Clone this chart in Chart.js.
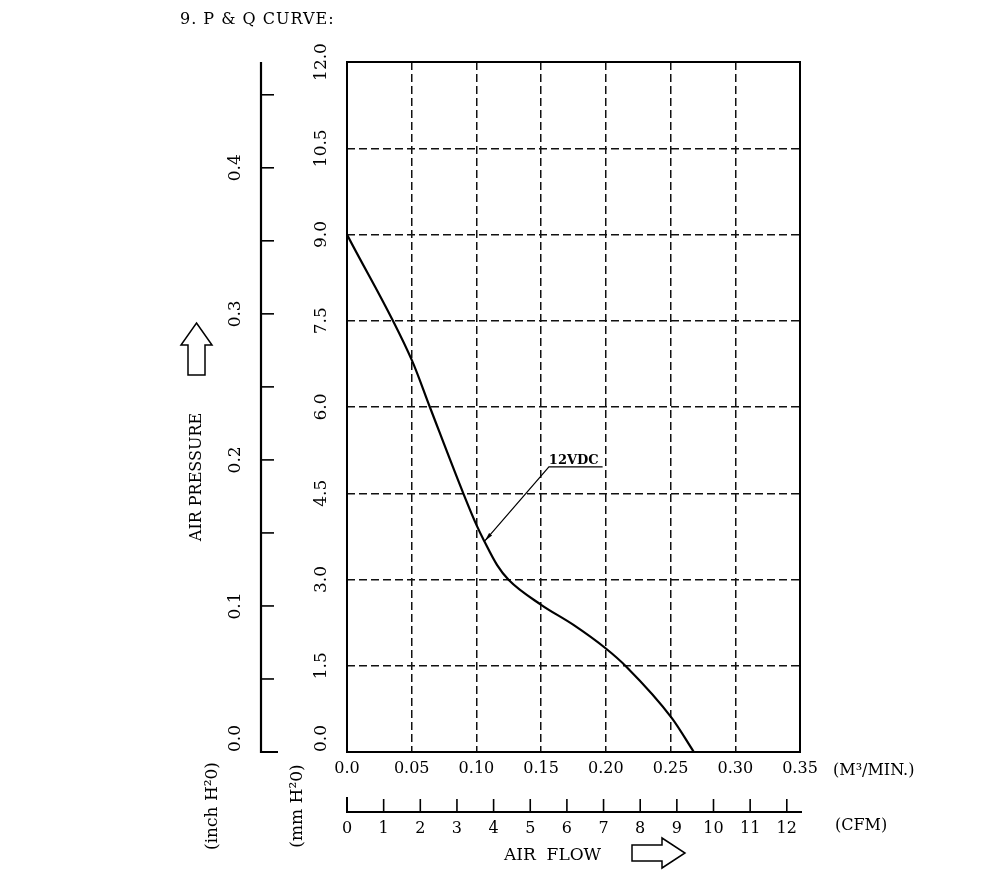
<!DOCTYPE html>
<html>
<head>
<meta charset="utf-8">
<title>P &amp; Q Curve</title>
<script src="https://cdn.jsdelivr.net/npm/chart.js@4.4.1/dist/chart.umd.min.js"></script>
<style>
  html, body { margin: 0; background: #fff; }
  #wrap { width: 1000px; height: 882px; position: relative; }
</style>
</head>
<body>
<div id="wrap"><canvas id="pq"></canvas></div>
<script>
// curva P-Q (caudal en m3/min, presion en mm H2O)
const flowM3     = [0, 0.05, 0.064, 0.09, 0.1, 0.106, 0.116, 0.125, 0.15, 0.175, 0.2, 0.216, 0.251, 0.268];
const pressureMm = [9.0, 6.82, 6.0, 4.49, 3.95, 3.67, 3.25, 2.99, 2.56, 2.21, 1.80, 1.48, 0.59, 0];

const flowTicks = ['0.0', '0.05', '0.10', '0.15', '0.20', '0.25', '0.30', '0.35'];
const mmTicks   = ['0.0', '1.5', '3.0', '4.5', '6.0', '7.5', '9.0', '10.5', '12.0'];
const inchTicks = ['0.0', '0.1', '0.2', '0.3', '0.4'];
const inchMinor = [0, 0.05, 0.1, 0.15, 0.2, 0.25, 0.3, 0.35, 0.4, 0.45];
const cfmTicks  = ['0', '1', '2', '3', '4', '5', '6', '7', '8', '9', '10', '11', '12'];

const curveLabel = '12VDC';
const MM_PER_INCH = 25.4;
const CFM_PER_M3MIN = 35.3147;

const FONT = '"DejaVu Serif", "Liberation Serif", serif';
const INK = '#000';

function vtext(ctx, s, x, y, align) {
  ctx.save();
  ctx.translate(x, y);
  ctx.rotate(-Math.PI / 2);
  ctx.textAlign = align || 'center';
  ctx.textBaseline = 'middle';
  ctx.fillText(s, 0, 0);
  ctx.restore();
}

function outline(ctx, pts) {
  ctx.beginPath();
  ctx.moveTo(pts[0][0], pts[0][1]);
  for (let i = 1; i < pts.length; i++) ctx.lineTo(pts[i][0], pts[i][1]);
  ctx.closePath();
  ctx.stroke();
}

// ejes extra, marco, textos y flecha del rotulo
const decor = {
  id: 'decor',
  afterDraw(chart) {
    const { ctx, chartArea: a, scales: { x, y } } = chart;
    ctx.save();
    ctx.fillStyle = INK;
    ctx.strokeStyle = INK;

    // marco del area
    ctx.lineWidth = 2;
    ctx.strokeRect(a.left, a.top, a.right - a.left, a.bottom - a.top);

    // titulo
    ctx.font = '16px ' + FONT;
    ctx.letterSpacing = '1px';
    ctx.textAlign = 'left';
    ctx.textBaseline = 'middle';
    ctx.fillText('9. P & Q CURVE:', 180, 20);
    ctx.letterSpacing = '0px';

    // eje mm H2O (etiquetas giradas)
    ctx.font = '17px ' + FONT;
    mmTicks.forEach(t => {
      const v = parseFloat(t);
      const py = y.getPixelForValue(v);
      if (v === 0) vtext(ctx, t, 322, py, 'left');
      else vtext(ctx, t, 322, py);
    });

    // eje inch H2O
    const axX = 261;
    ctx.lineWidth = 2.2;
    ctx.beginPath();
    ctx.moveTo(axX, a.top);
    ctx.lineTo(axX, a.bottom);
    ctx.lineTo(axX + 17, a.bottom);
    ctx.stroke();
    ctx.lineWidth = 1.6;
    inchMinor.forEach(v => {
      if (v === 0) return;
      const py = y.getPixelForValue(v * MM_PER_INCH);
      ctx.beginPath();
      ctx.moveTo(axX, py);
      ctx.lineTo(axX + 13, py);
      ctx.stroke();
    });
    inchTicks.forEach(t => {
      const v = parseFloat(t);
      const py = y.getPixelForValue(v * MM_PER_INCH);
      if (v === 0) vtext(ctx, t, 236, py, 'left');
      else vtext(ctx, t, 236, py);
    });

    // unidades verticales
    ctx.font = '17px ' + FONT;
    vtext(ctx, '(inch H²0)', 213, 806);
    vtext(ctx, '(mm H²0)', 298, 806);
    ctx.font = '16px ' + FONT;
    vtext(ctx, 'AIR PRESSURE', 197, 477);

    // flecha hacia arriba
    ctx.lineWidth = 1.5;
    outline(ctx, [[196.5, 323], [212, 345], [205, 345], [205, 375], [188, 375], [188, 345], [181, 345]]);

    // eje CFM
    const cy = 812;
    ctx.lineWidth = 2;
    ctx.beginPath();
    ctx.moveTo(a.left, cy - 15);
    ctx.lineTo(a.left, cy);
    ctx.lineTo(a.right + 2, cy);
    ctx.stroke();
    ctx.lineWidth = 1.6;
    ctx.font = '16px ' + FONT;
    ctx.textAlign = 'center';
    ctx.textBaseline = 'middle';
    cfmTicks.forEach(t => {
      const v = parseFloat(t);
      const px = x.getPixelForValue(v / CFM_PER_M3MIN);
      if (v > 0) {
        ctx.beginPath();
        ctx.moveTo(px, cy - 13);
        ctx.lineTo(px, cy);
        ctx.stroke();
      }
      ctx.fillText(t, px, 829);
    });

    // unidades horizontales
    ctx.textAlign = 'left';
    ctx.font = '16px ' + FONT;
    ctx.fillText('(M³/MIN.)', 833, 771);
    ctx.fillText('(CFM)', 835, 826);
    ctx.font = '17px ' + FONT;
    ctx.fillText('AIR  FLOW', 504, 856);

    // flecha hacia la derecha
    ctx.lineWidth = 1.5;
    outline(ctx, [[632, 845], [662, 845], [662, 838], [685, 853], [662, 868], [662, 861], [632, 861]]);

    // rotulo 12VDC con linea guia
    const tipX = x.getPixelForValue(0.1065), tipY = y.getPixelForValue(3.67);
    const elX = x.getPixelForValue(0.156), elY = y.getPixelForValue(4.96);
    const endX = x.getPixelForValue(0.1975);
    ctx.lineWidth = 1.2;
    ctx.beginPath();
    ctx.moveTo(endX, elY);
    ctx.lineTo(elX, elY);
    ctx.lineTo(tipX, tipY);
    ctx.stroke();
    const ang = Math.atan2(tipY - elY, tipX - elX);
    ctx.beginPath();
    ctx.moveTo(tipX, tipY);
    ctx.lineTo(tipX - 9 * Math.cos(ang - 0.22), tipY - 9 * Math.sin(ang - 0.22));
    ctx.lineTo(tipX - 9 * Math.cos(ang + 0.22), tipY - 9 * Math.sin(ang + 0.22));
    ctx.closePath();
    ctx.fill();
    ctx.font = 'bold 13px ' + FONT;
    ctx.textAlign = 'center';
    ctx.textBaseline = 'alphabetic';
    ctx.fillText(curveLabel, (elX + endX) / 2 - 2, elY - 3);

    ctx.restore();
  }
};

new Chart(document.getElementById('pq'), {
  type: 'line',
  data: {
    datasets: [{
      label: curveLabel,
      data: flowM3.map((q, i) => ({ x: q, y: pressureMm[i] })),
      borderColor: INK,
      borderWidth: 2.2,
      pointRadius: 0,
      fill: false,
      cubicInterpolationMode: 'monotone'
    }]
  },
  options: {
    responsive: true,
    maintainAspectRatio: false,
    animation: false,
    devicePixelRatio: 1,
    layout: { padding: { top: 62, right: 200, bottom: 0, left: 0 } },
    plugins: { legend: { display: false }, tooltip: { enabled: false } },
    scales: {
      x: {
        type: 'linear',
        min: 0, max: 0.35,
        afterBuildTicks: s => { s.ticks = flowTicks.map(t => ({ value: parseFloat(t) })); },
        afterFit: s => { s.height = 130; },
        ticks: {
          callback: (v, i) => flowTicks[i],
          font: { family: FONT, size: 16 },
          color: INK,
          padding: 7,
          maxRotation: 0,
          autoSkip: false
        },
        grid: { color: '#111', lineWidth: 1.5, drawTicks: false, borderDash: [8, 4] },
        border: { display: false, dash: [8, 4] }
      },
      y: {
        type: 'linear',
        min: 0, max: 12,
        afterBuildTicks: s => { s.ticks = mmTicks.map(t => ({ value: parseFloat(t) })); },
        afterFit: s => { s.width = 347; },
        ticks: { display: false },
        grid: { color: '#111', lineWidth: 1.5, drawTicks: false, borderDash: [8, 4] },
        border: { display: false, dash: [8, 4] }
      }
    }
  },
  plugins: [decor]
});
</script>
</body>
</html>
